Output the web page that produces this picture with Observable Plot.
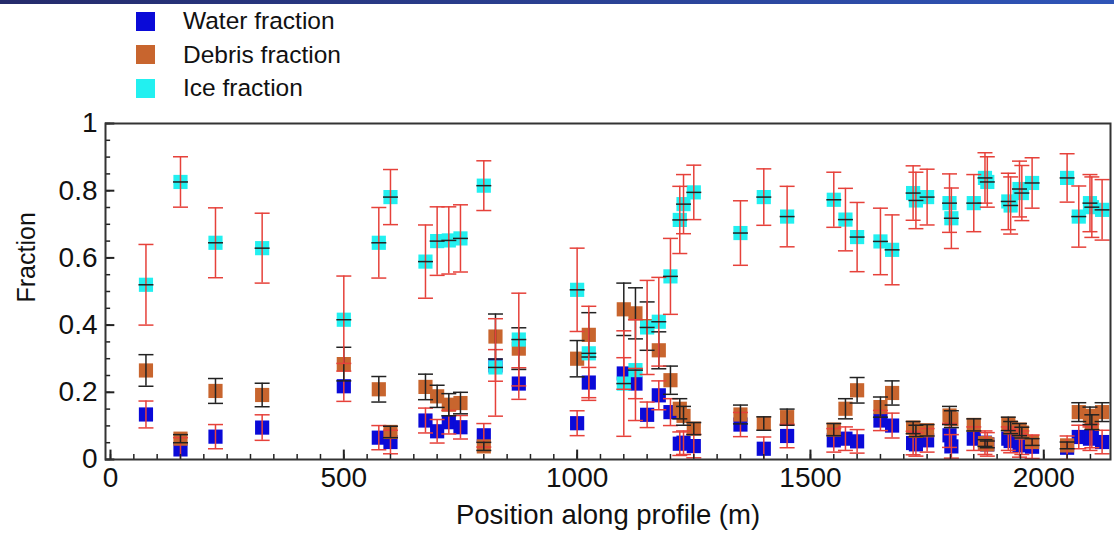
<!DOCTYPE html>
<html><head><meta charset="utf-8">
<script src="https://cdn.jsdelivr.net/npm/d3@7"></script>
<script src="https://cdn.jsdelivr.net/npm/@observablehq/plot@0.6"></script>
<style>
body{margin:0;background:#fff;font-family:"Liberation Sans",Arial,sans-serif;}
#wrap{position:relative;width:1114px;}
#strip{position:absolute;left:0;top:0;width:1114px;height:4px;background:linear-gradient(90deg,#252b6b,#2f55b8);}
#legend{position:relative;height:100px;}
.item{position:absolute;left:136px;height:30px;display:flex;align-items:center;font-size:24.5px;color:#111;}
.sw{width:19px;height:19px;margin-right:28px;}
#chart svg{display:block;}
</style></head><body>
<div id="wrap"><div id="strip"></div><div id="legend"></div><div id="chart"></div></div>
<script>
// Position along profile (m)
const position = [76,150,225,325,500,575,600,675,700,725,750,800,825,875,1000,1025,1100,1125,1150,1175,1200,1220,1228,1250,1350,1400,1450,1550,1575,1600,1650,1675,1720,1726,1750,1798,1802,1850,1874,1879,1924,1929,1948,1953,1975,2050,2075,2099,2103,2125];
const water =    [0.134,0.030,0.068,0.095,0.218,0.065,0.052,0.116,0.084,0.111,0.096,0.072,0.280,0.226,0.108,0.229,0.256,0.226,0.133,0.191,0.141,0.047,0.050,0.040,0.104,0.032,0.070,0.057,0.062,0.054,0.116,0.101,0.049,0.045,0.057,0.072,0.039,0.062,0.050,0.045,0.062,0.055,0.042,0.050,0.038,0.035,0.067,0.062,0.070,0.052];
const waterErr = [0.040,0.035,0.036,0.038,0.045,0.036,0.035,0.037,0.035,0.035,0.035,0.035,0.047,0.047,0.037,0.045,0.047,0.045,0.038,0.043,0.040,0.035,0.035,0.035,0.036,0.035,0.035,0.035,0.035,0.035,0.030,0.037,0.035,0.035,0.035,0.036,0.035,0.035,0.035,0.035,0.035,0.035,0.035,0.035,0.035,0.035,0.035,0.035,0.035,0.035];
const debris =    [0.265,0.062,0.204,0.192,0.284,0.209,0.082,0.216,0.188,0.163,0.168,0.039,0.366,0.330,0.300,0.371,0.447,0.435,0.397,0.325,0.236,0.151,0.130,0.092,0.134,0.107,0.126,0.089,0.151,0.206,0.156,0.198,0.095,0.085,0.087,0.131,0.120,0.103,0.049,0.045,0.106,0.095,0.089,0.080,0.052,0.042,0.141,0.130,0.111,0.141];
const debrisErr = [0.047,0.012,0.037,0.035,0.050,0.038,0.017,0.038,0.033,0.033,0.032,0.012,0.067,0.062,0.054,0.066,0.078,0.076,0.072,0.055,0.042,0.030,0.028,0.018,0.028,0.020,0.024,0.018,0.030,0.038,0.030,0.036,0.018,0.017,0.017,0.027,0.025,0.018,0.010,0.010,0.020,0.018,0.018,0.016,0.010,0.010,0.028,0.026,0.022,0.028];
const ice =    [0.520,0.826,0.645,0.629,0.416,0.645,0.781,0.589,0.650,0.652,0.658,0.815,0.274,0.357,0.505,0.316,0.226,0.266,0.393,0.410,0.545,0.713,0.760,0.795,0.674,0.781,0.723,0.773,0.714,0.662,0.649,0.624,0.793,0.771,0.781,0.763,0.718,0.763,0.838,0.826,0.768,0.756,0.805,0.793,0.823,0.838,0.723,0.763,0.751,0.743];
const iceErr = [0.120,0.075,0.104,0.104,0.130,0.105,0.082,0.109,0.102,0.100,0.100,0.074,0.145,0.138,0.124,0.140,0.157,0.150,0.140,0.132,0.113,0.100,0.088,0.081,0.096,0.084,0.090,0.082,0.093,0.103,0.099,0.104,0.081,0.084,0.083,0.087,0.090,0.085,0.075,0.075,0.084,0.085,0.083,0.082,0.075,0.072,0.091,0.085,0.090,0.090];

const xTicksMajor = [0,500,1000,1500,2000];
const yTicksMajor = [0,0.2,0.4,0.6,0.8,1];
const legendItems = [["Water fraction","#0a0ad8"],["Debris fraction","#c8652e"],["Ice fraction","#22f0f0"]];
const xTitle = "Position along profile (m)";
const yTitle = "Fraction";

const colors = {water:"#0a0ad8", debris:"#c8652e", ice:"#22f0f0", red:"#e6413a", black:"#222"};
const tickFont = "'Liberation Sans Narrow','Liberation Sans',Arial,sans-serif";

// legend
const leg = document.getElementById("legend");
legendItems.forEach(([t,c],i)=>{
  const d = document.createElement("div");
  d.className="item"; d.style.top = (6+i*33.5)+"px";
  d.innerHTML = `<div class="sw" style="background:${c}"></div><span>${t}</span>`;
  leg.appendChild(d);
});

const rows = position.map((x,i)=>({x, w:water[i], we:waterErr[i], d:debris[i], de:debrisErr[i], ice:ice[i], ie:iceErr[i]}));
const cap = {draw(ctx,size){const r=Math.sqrt(size/Math.PI); ctx.moveTo(-r,0); ctx.lineTo(r,0);}};
const xMin = -10.7, xMax = 2143;

function bars(v,e,color,w){
  return [
    Plot.ruleX(rows,{x:"x",y1:d=>d[v]-d[e],y2:d=>d[v]+d[e],stroke:color,strokeWidth:w,clip:true}),
    Plot.dot(rows,{x:"x",y:d=>d[v]-d[e],symbol:cap,r:7.5,stroke:color,strokeWidth:w,fill:"none",clip:true}),
    Plot.dot(rows,{x:"x",y:d=>d[v]+d[e],symbol:cap,r:7.5,stroke:color,strokeWidth:w,fill:"none",clip:true})
  ];
}
const sq = (v,c)=>Plot.dot(rows,{x:"x",y:v,symbol:"square",r:8,fill:c,stroke:null});

const minorX = d3.range(0,2101,50), minorY = d3.range(0,1.0001,0.05);

const chart = Plot.plot({
  width:1114, height:440,
  marginTop:23, marginBottom:81, marginLeft:105, marginRight:4,
  style:{fontFamily:"'Liberation Sans',Arial,sans-serif", fontSize:"23px", color:"#111", background:"transparent", overflow:"visible"},
  x:{domain:[xMin,xMax]},
  y:{domain:[0,1]},
  marks:[
    sq("w",colors.water), sq("d",colors.debris), sq("ice",colors.ice),
    ...bars("w","we",colors.red,1.5),
    ...bars("d","de",colors.black,1.5),
    ...bars("ice","ie",colors.red,1.5),
    Plot.dot(rows,{x:"x",y:"ice",symbol:cap,r:7.5,stroke:colors.black,strokeWidth:1.5,fill:"none"}),
    // inward ticks
    Plot.ruleX(minorX,{x:d=>d,y1:0,y2:0.015,stroke:"#222",strokeWidth:1.5}),
    Plot.ruleX(xTicksMajor,{x:d=>d,y1:0,y2:0.028,stroke:"#222",strokeWidth:2}),
    Plot.ruleY(minorY,{y:d=>d,x1:xMin,x2:xMin+11,stroke:"#222",strokeWidth:1.5}),
    Plot.ruleY(yTicksMajor,{y:d=>d,x1:xMin,x2:xMin+20,stroke:"#222",strokeWidth:2}),
    Plot.axisX({ticks:xTicksMajor,tickSize:0,tickPadding:8,tickFormat:d=>String(d),fontSize:28,fontFamily:tickFont,label:null}),
    Plot.axisY({ticks:yTicksMajor,tickSize:0,tickPadding:8,tickFormat:d3.format("~g"),fontSize:28,fontFamily:tickFont,label:null}),
    Plot.text([xTitle],{text:d=>d,frameAnchor:"bottom",dy:64,fontSize:27.5}),
    Plot.text([yTitle],{text:d=>d,frameAnchor:"left",dx:-79,dy:11,rotate:-90,fontSize:25}),
    Plot.frame({stroke:"#333",strokeWidth:2})
  ]
});
document.getElementById("chart").appendChild(chart);
</script>
</body></html>
